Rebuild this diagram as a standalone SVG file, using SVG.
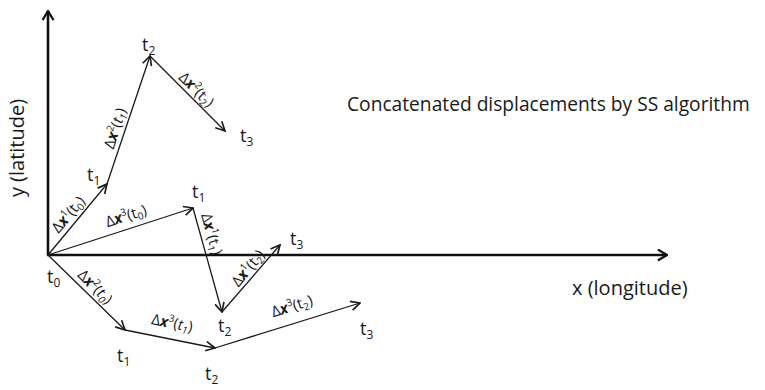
<svg xmlns="http://www.w3.org/2000/svg" width="765" height="390" viewBox="0 0 765 390">
<style>
.ax{stroke:#111;stroke-width:2.6;fill:none}
.ln{stroke:#1a1a1a;stroke-width:1.3;fill:none}
.big{font-family:"Open Sans","Liberation Sans",sans-serif;font-size:20px;fill:#1a1a1a}
.t{font-family:"Open Sans","Liberation Sans",sans-serif;font-size:18px;fill:#1a1a1a}
.d{font-family:"Open Sans","Liberation Sans",sans-serif;font-size:15px;fill:#1a1a1a}
.x{font-weight:bold;font-style:italic}
.it{font-style:italic}
.sp{font-size:10px}
</style>
<defs>
<marker id="ah" viewBox="0 0 12 12" refX="11" refY="6" markerWidth="11" markerHeight="11" markerUnits="userSpaceOnUse" orient="auto">
<path d="M1,1 L11,6 L1,11" fill="none" stroke="#1a1a1a" stroke-width="1.8"/>
</marker>
<marker id="ahb" viewBox="0 0 12 14" refX="11" refY="7" markerWidth="11" markerHeight="13" markerUnits="userSpaceOnUse" orient="auto">
<path d="M1,1 L11,7 L1,13" fill="none" stroke="#111" stroke-width="2.4"/>
</marker>
</defs>

<g id="axes">
<line class="ax" x1="48" y1="255" x2="48" y2="11" marker-end="url(#ahb)"/>
<line class="ax" x1="47" y1="255" x2="667" y2="255" marker-end="url(#ahb)"/>
<text class="big" transform="translate(24,148) rotate(-90)" text-anchor="middle">y (latitude)</text>
<text class="big" x="572" y="295">x (longitude)</text>
</g>

<text id="title" class="big" x="347" y="111" style="font-size:19.2px">Concatenated displacements by SS algorithm</text>

<g id="connectors">
<line class="ln" x1="48" y1="255" x2="107" y2="184" marker-end="url(#ah)"/>
<line class="ln" x1="107" y1="184" x2="150" y2="56" marker-end="url(#ah)"/>
<line class="ln" x1="150" y1="56" x2="225" y2="131" marker-end="url(#ah)"/>
<line class="ln" x1="48" y1="255" x2="193" y2="208" marker-end="url(#ah)"/>
<line class="ln" x1="193" y1="208" x2="222" y2="312" marker-end="url(#ah)"/>
<line class="ln" x1="222" y1="312" x2="280" y2="245" marker-end="url(#ah)"/>
<line class="ln" x1="48" y1="255" x2="125" y2="330" marker-end="url(#ah)"/>
<line class="ln" x1="125" y1="330" x2="215" y2="348" marker-end="url(#ah)"/>
<line class="ln" x1="215" y1="348" x2="360" y2="303" marker-end="url(#ah)"/>
</g>

<g id="labels">
<text class="d" transform="translate(76,221) rotate(-50)" text-anchor="middle" y="-5">Δ<tspan class="x">x</tspan><tspan class="sp" dy="-6">1</tspan><tspan dy="6">(t</tspan><tspan class="sp" dy="3">0</tspan><tspan dy="-3">)</tspan></text>
<text class="d" transform="translate(124.6,131.5) rotate(-72)" text-anchor="middle" y="-5">Δ<tspan class="x">x</tspan><tspan class="sp" dy="-6">2</tspan><tspan dy="6">(</tspan><tspan class="it">t</tspan><tspan class="sp it" dy="3">1</tspan><tspan dy="-3">)</tspan></text>
<text class="d" transform="translate(190,96) rotate(45)" text-anchor="middle" y="-4">Δ<tspan class="x">x</tspan><tspan class="sp" dy="-6">2</tspan><tspan dy="6">(t</tspan><tspan class="sp" dy="3">2</tspan><tspan dy="-3">)</tspan></text>
<text class="d" transform="translate(130,228.4) rotate(-17.6)" text-anchor="middle" y="-8">Δ<tspan class="x">x</tspan><tspan class="sp" dy="-6">3</tspan><tspan dy="6">(t</tspan><tspan class="sp" dy="3">0</tspan><tspan dy="-3">)</tspan></text>
<text class="d" transform="translate(201,237) rotate(74)" text-anchor="middle" y="-6">Δ<tspan class="x">x</tspan><tspan class="sp" dy="-6">1</tspan><tspan dy="6">(t</tspan><tspan class="sp" dy="3">1</tspan><tspan dy="-3">)</tspan></text>
<text class="d" transform="translate(255,274) rotate(-50.6)" text-anchor="middle" y="-4">Δ<tspan class="x">x</tspan><tspan class="sp" dy="-6">1</tspan><tspan dy="6">(t</tspan><tspan class="sp" dy="3">2</tspan><tspan dy="-3">)</tspan></text>
<text class="d" transform="translate(88,294) rotate(44.6)" text-anchor="middle" y="-5">Δ<tspan class="x">x</tspan><tspan class="sp" dy="-6">2</tspan><tspan dy="6">(</tspan><tspan class="it">t</tspan><tspan class="sp it" dy="3">0</tspan><tspan dy="-3">)</tspan></text>
<text class="d" transform="translate(169,338.8) rotate(11.3)" text-anchor="middle" y="-11">Δ<tspan class="x">x</tspan><tspan class="sp" dy="-6">3</tspan><tspan dy="6">(</tspan><tspan class="it">t</tspan><tspan class="sp it" dy="3">1</tspan><tspan dy="-3">)</tspan></text>
<text class="d" transform="translate(297,322.5) rotate(-17.2)" text-anchor="middle" y="-12">Δ<tspan class="x">x</tspan><tspan class="sp" dy="-6">3</tspan><tspan dy="6">(t</tspan><tspan class="sp" dy="3">2</tspan><tspan dy="-3">)</tspan></text>
</g>

<g id="t0"><text class="t" x="47" y="283">t<tspan font-size="12" dy="4">0</tspan></text></g>
<g id="p1_t1"><text class="t" x="87" y="181">t<tspan font-size="12" dy="4">1</tspan></text></g>
<g id="p1_t2"><text class="t" x="142" y="51">t<tspan font-size="12" dy="4">2</tspan></text></g>
<g id="p1_t3"><text class="t" x="240" y="142">t<tspan font-size="12" dy="4">3</tspan></text></g>
<g id="p2_t1"><text class="t" x="192" y="198">t<tspan font-size="12" dy="4">1</tspan></text></g>
<g id="p2_t2"><text class="t" x="218" y="332">t<tspan font-size="12" dy="4">2</tspan></text></g>
<g id="p2_t3"><text class="t" x="290" y="245">t<tspan font-size="12" dy="4">3</tspan></text></g>
<g id="p3_t1"><text class="t" x="117" y="362">t<tspan font-size="12" dy="4">1</tspan></text></g>
<g id="p3_t2"><text class="t" x="205" y="380">t<tspan font-size="12" dy="4">2</tspan></text></g>
<g id="p3_t3"><text class="t" x="360" y="335">t<tspan font-size="12" dy="4">3</tspan></text></g>
</svg>
